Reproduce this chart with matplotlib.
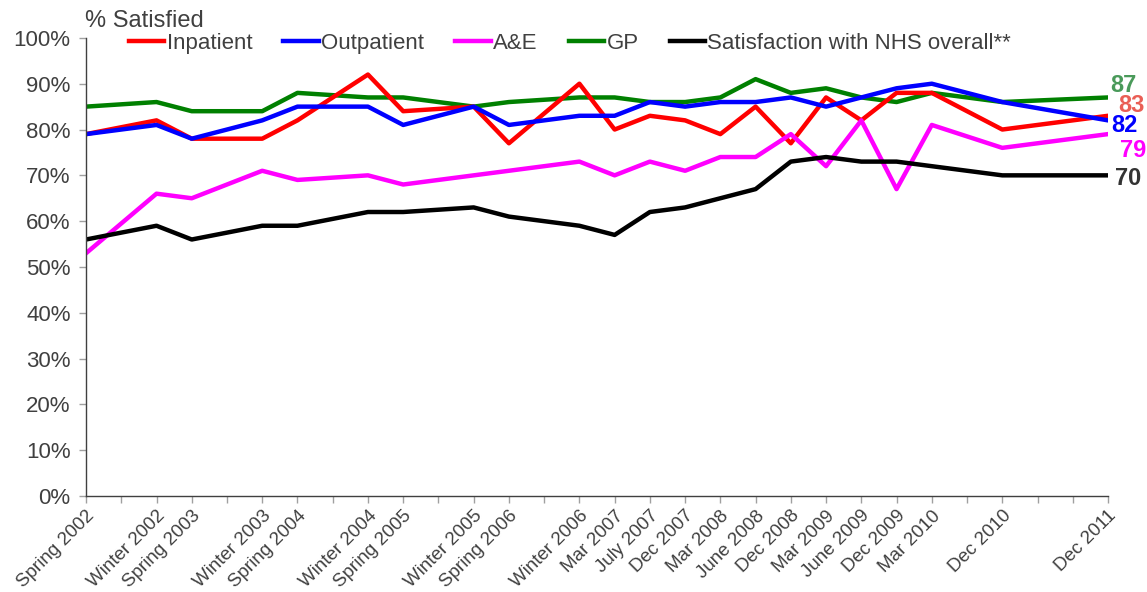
import matplotlib.pyplot as plt

plt.rcParams['font.family'] = ['Liberation Sans', 'DejaVu Sans']

# 30 个等距类别位置，只有部分有标签/数据
n_slots = 30
data_idx = [0, 2, 3, 5, 6, 8, 9, 11, 12, 14, 15, 16, 17, 18, 19, 20, 21, 22, 23, 24, 26, 29]
labels = ['Spring 2002', 'Winter 2002', 'Spring 2003', 'Winter 2003', 'Spring 2004',
          'Winter 2004', 'Spring 2005', 'Winter 2005', 'Spring 2006', 'Winter 2006',
          'Mar 2007', 'July 2007', 'Dec 2007', 'Mar 2008', 'June 2008', 'Dec 2008',
          'Mar 2009', 'June 2009', 'Dec 2009', 'Mar 2010', 'Dec 2010', 'Dec 2011']

inpatient = [79, 82, 78, 78, 82, 92, 84, 85, 77, 90, 80, 83, 82, 79, 85, 77, 87, 82, 88, 88, 80, 83]
outpatient = [79, 81, 78, 82, 85, 85, 81, 85, 81, 83, 83, 86, 85, 86, 86, 87, 85, 87, 89, 90, 86, 82]
ae = [53, 66, 65, 71, 69, 70, 68, 70, 71, 73, 70, 73, 71, 74, 74, 79, 72, 82, 67, 81, 76, 79]
gp = [85, 86, 84, 84, 88, 87, 87, 85, 86, 87, 87, 86, 86, 87, 91, 88, 89, 87, 86, 88, 86, 87]
overall = [56, 59, 56, 59, 59, 62, 62, 63, 61, 59, 57, 62, 63, 65, 67, 73, 74, 73, 73, 72, 70, 70]

TXT = '#404040'

fig = plt.figure(figsize=(11.47, 5.92), dpi=100)
ax = fig.add_axes([0.075, 0.162, 0.891, 0.774])

lw = 3.2
l_gp, = ax.plot(data_idx, gp, color='#008000', lw=lw, label='GP')
l_in, = ax.plot(data_idx, inpatient, color='#ff0000', lw=lw, label='Inpatient')
l_out, = ax.plot(data_idx, outpatient, color='#0000ff', lw=lw, label='Outpatient')
l_ae, = ax.plot(data_idx, ae, color='#ff00ff', lw=lw, label='A&E')
l_all, = ax.plot(data_idx, overall, color='#000000', lw=lw, label='Satisfaction with NHS overall**')

ax.set_xlim(0, n_slots - 1)
ax.set_ylim(0, 100)
ax.set_yticks(range(0, 101, 10))
ax.set_yticklabels([f'{v}%' for v in range(0, 101, 10)], fontsize=16, color=TXT)
ax.set_xticks(range(n_slots))
tick_labels = [''] * n_slots
for i, lab in zip(data_idx, labels):
    tick_labels[i] = lab
ax.set_xticklabels(tick_labels, rotation=45, ha='right', rotation_mode='anchor',
                   fontsize=13.5, color=TXT)
ax.tick_params(axis='both', direction='out', length=5, color='#a0a0a0', width=1)
ax.tick_params(axis='x', pad=3)
ax.tick_params(axis='y', pad=6)
for s in ['top', 'right']:
    ax.spines[s].set_visible(False)
for s in ['left', 'bottom']:
    ax.spines[s].set_color('#404040')
    ax.spines[s].set_linewidth(1)

# 末端数值标注
end_x = data_idx[-1]
ends = [(gp[-1], '#4a9a5a', 0.06, 89.7), (inpatient[-1], '#ea5e55', 0.28, 85.2),
        (outpatient[-1], '#0000ff', 0.1, 80.8), (ae[-1], '#ff00ff', 0.34, 75.5),
        (overall[-1], '#333333', 0.2, 69.4)]
for val, c, dx, y in ends:
    ax.text(end_x + dx, y, str(val), color=c, fontsize=17, fontweight='bold',
            va='center', ha='left', clip_on=False)

fig.text(0.074, 0.965, '% Satisfied', fontsize=17, color=TXT, va='center', ha='left')

fig.legend(handles=[l_in, l_out, l_ae, l_gp, l_all], loc='center', ncol=5,
           bbox_to_anchor=(0.497, 0.927), frameon=False, fontsize=16,
           handlelength=1.6, handletextpad=0.1, columnspacing=1.4, labelcolor=TXT)

fig.savefig('out.png', dpi=100)
